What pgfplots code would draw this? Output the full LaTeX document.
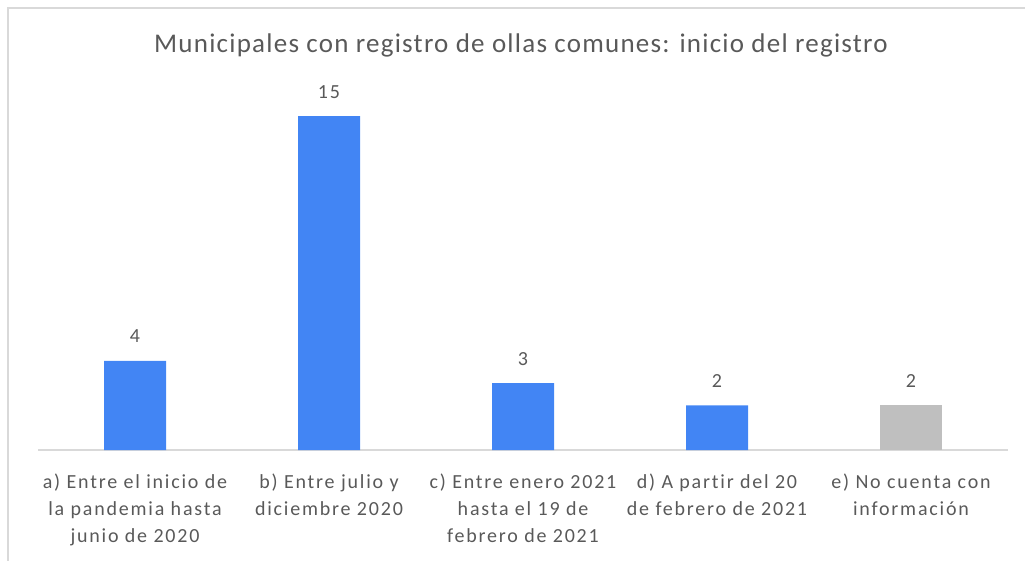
\documentclass[border=0pt]{standalone}
\usepackage{pgfplots}
\pgfplotsset{compat=1.18}
\usepackage{fontspec}
\setmainfont{Carlito}
\newfontfamily\lab[LetterSpace=9,Ligatures=NoCommon]{Carlito}
\newfontfamily\ttl[LetterSpace=4.6,Ligatures=NoCommon]{Carlito}
\definecolor{barblue}{HTML}{4285F4}
\definecolor{bargrey}{HTML}{BFBFBF}
\definecolor{txt}{HTML}{595959}
\definecolor{axl}{HTML}{D9D9D9}
\begin{document}
\begin{tikzpicture}
\path[use as bounding box] (0,0) rectangle (1025bp,561bp);
\draw[axl, line width=1.5bp] (8bp,0) -- (8bp,553bp) -- (1025bp,553bp);
\node[txt, font=\ttl\fontsize{27bp}{32bp}\selectfont, anchor=base] at (521bp,508bp) {Municipales con registro de ollas comunes: inicio del registro};
\begin{axis}[
 at={(38bp,111bp)}, anchor=south west, scale only axis,
 width=970bp, height=356bp,
 xmin=-0.5, xmax=4.5, ymin=0, ymax=16,
 axis x line*=bottom, axis y line=none,
 x axis line style={-, draw=axl, line width=1.5bp},
 xtick={0,1,2,3,4},
 xticklabels={{a) Entre el inicio de\\la pandemia hasta\\junio de 2020},
   {b) Entre julio y\\diciembre 2020},
   {c) Entre enero 2021\\hasta el 19 de\\febrero de 2021},
   {d) A partir del 20\\de febrero de 2021},
   {e) No cuenta con\\informaci\'on}},
 major tick length=0pt,
 xticklabel style={align=center, text=txt, font=\lab\fontsize{20bp}{27bp}\selectfont, anchor=north, inner sep=0pt, yshift=-24bp},
 ybar, bar width=62bp, bar shift=0pt,
 nodes near coords,
 /pgf/number format/assume math mode=true,
 every node near coord/.append style={text=txt, font=\lab\fontsize{20bp}{24bp}\selectfont, anchor=base, yshift=18bp, inner sep=0pt},
 clip=false,
]
\addplot[fill=barblue, draw=none] coordinates {(0,4) (1,15) (2,3) (3,2)};
\addplot[fill=bargrey, draw=none] coordinates {(4,2)};
\end{axis}
\end{tikzpicture}
\end{document}
